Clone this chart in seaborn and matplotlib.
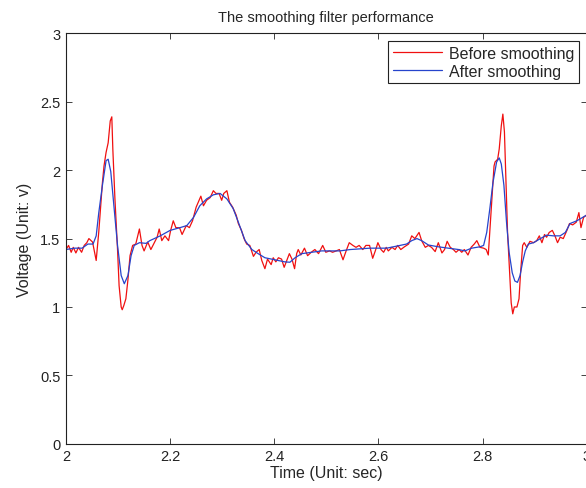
import seaborn as sns
import matplotlib.pyplot as plt
import pandas as pd

# values
t_before = [2.000, 2.005, 2.010, 2.014, 2.019, 2.024, 2.030, 2.035, 2.040, 2.044,
            2.051, 2.058, 2.063, 2.070, 2.073, 2.077, 2.081, 2.085, 2.088, 2.090,
            2.094, 2.099, 2.102, 2.106, 2.108, 2.111, 2.115, 2.119, 2.123, 2.128,
            2.134, 2.141, 2.146, 2.150, 2.157, 2.163, 2.167, 2.175, 2.179, 2.184,
            2.190, 2.197, 2.201, 2.206, 2.211, 2.218, 2.223, 2.231, 2.237, 2.243,
            2.250, 2.254, 2.259, 2.264, 2.270, 2.277, 2.283, 2.288, 2.294, 2.299,
            2.303, 2.309, 2.314, 2.320, 2.327, 2.331, 2.337, 2.342, 2.347, 2.353,
            2.360, 2.365, 2.371, 2.376, 2.382, 2.387, 2.394, 2.398, 2.403, 2.408,
            2.414, 2.419, 2.424, 2.429, 2.434, 2.439, 2.443, 2.446, 2.451, 2.458,
            2.464, 2.471, 2.478, 2.485, 2.493, 2.499, 2.506, 2.512, 2.519, 2.525,
            2.532, 2.538, 2.544, 2.551, 2.557, 2.563, 2.570, 2.576, 2.583, 2.589,
            2.594, 2.599, 2.605, 2.610, 2.615, 2.619, 2.626, 2.632, 2.637, 2.643,
            2.650, 2.658, 2.664, 2.670, 2.678, 2.683, 2.690, 2.696, 2.702, 2.709,
            2.715, 2.722, 2.727, 2.732, 2.738, 2.744, 2.749, 2.755, 2.760, 2.765,
            2.772, 2.778, 2.784, 2.789, 2.795, 2.802, 2.807, 2.811, 2.816, 2.822,
            2.824, 2.829, 2.832, 2.836, 2.839, 2.842, 2.845, 2.848, 2.852, 2.855,
            2.858, 2.861, 2.866, 2.870, 2.873, 2.877, 2.880, 2.885, 2.891, 2.898,
            2.904, 2.909, 2.914, 2.919, 2.923, 2.928, 2.934, 2.939, 2.944, 2.949,
            2.955, 2.962, 2.967, 2.973, 2.980, 2.985, 2.989, 2.994, 2.999]
v_before = [1.42, 1.45, 1.40, 1.436, 1.395, 1.436, 1.40, 1.45, 1.47, 1.50,
            1.475, 1.34, 1.55, 1.91, 2.03, 2.13, 2.20, 2.36, 2.39, 2.15,
            1.79, 1.42, 1.156, 1.00, 0.98, 1.01, 1.06, 1.20, 1.375, 1.45,
            1.46, 1.57, 1.45, 1.41, 1.475, 1.42, 1.45, 1.51, 1.57, 1.485,
            1.52, 1.485, 1.56, 1.63, 1.58, 1.58, 1.53, 1.595, 1.58, 1.63,
            1.73, 1.765, 1.81, 1.74, 1.78, 1.80, 1.85, 1.83, 1.83, 1.78,
            1.83, 1.85, 1.765, 1.73, 1.67, 1.61, 1.56, 1.50, 1.46, 1.45,
            1.37, 1.40, 1.42, 1.34, 1.28, 1.35, 1.31, 1.36, 1.33, 1.36,
            1.35, 1.29, 1.34, 1.39, 1.35, 1.28, 1.39, 1.42, 1.38, 1.43,
            1.375, 1.40, 1.42, 1.39, 1.45, 1.40, 1.41, 1.40, 1.41, 1.42,
            1.345, 1.41, 1.47, 1.45, 1.436, 1.45, 1.42, 1.45, 1.45, 1.356,
            1.41, 1.47, 1.42, 1.40, 1.436, 1.41, 1.436, 1.42, 1.45, 1.42,
            1.44, 1.46, 1.52, 1.50, 1.545, 1.485, 1.436, 1.45, 1.436, 1.405,
            1.47, 1.395, 1.42, 1.48, 1.436, 1.42, 1.40, 1.42, 1.40, 1.42,
            1.38, 1.436, 1.46, 1.485, 1.436, 1.43, 1.42, 1.38, 1.67, 2.03,
            2.06, 2.08, 2.155, 2.325, 2.41, 2.28, 1.91, 1.545, 1.25, 1.03,
            0.95, 1.00, 1.00, 1.06, 1.25, 1.45, 1.47, 1.436, 1.48, 1.47,
            1.485, 1.52, 1.47, 1.53, 1.51, 1.545, 1.56, 1.52, 1.47, 1.51,
            1.50, 1.56, 1.61, 1.60, 1.62, 1.69, 1.58, 1.655, 1.67]

t_after = [2.000, 2.017, 2.031, 2.042, 2.052, 2.058, 2.063, 2.070, 2.077, 2.081,
           2.086, 2.092, 2.099, 2.106, 2.112, 2.119, 2.125, 2.131, 2.141, 2.154,
           2.161, 2.181, 2.200, 2.219, 2.232, 2.245, 2.257, 2.270, 2.283, 2.296,
           2.309, 2.321, 2.331, 2.344, 2.357, 2.369, 2.382, 2.401, 2.420, 2.430,
           2.440, 2.453, 2.472, 2.491, 2.526, 2.546, 2.584, 2.616, 2.654, 2.664,
           2.674, 2.683, 2.696, 2.715, 2.734, 2.754, 2.766, 2.779, 2.795, 2.802,
           2.808, 2.814, 2.820, 2.827, 2.832, 2.836, 2.841, 2.846, 2.851, 2.857,
           2.862, 2.867, 2.872, 2.877, 2.882, 2.888, 2.898, 2.911, 2.923, 2.936,
           2.949, 2.959, 2.968, 2.981, 2.999]
v_after = [1.42, 1.43, 1.43, 1.46, 1.46, 1.52, 1.69, 1.89, 2.07, 2.08,
           1.99, 1.74, 1.45, 1.23, 1.17, 1.23, 1.375, 1.45, 1.47, 1.465,
           1.485, 1.52, 1.56, 1.58, 1.595, 1.655, 1.74, 1.79, 1.82, 1.83,
           1.79, 1.72, 1.62, 1.485, 1.42, 1.39, 1.36, 1.345, 1.33, 1.327,
           1.36, 1.39, 1.40, 1.41, 1.41, 1.42, 1.43, 1.43, 1.46, 1.485,
           1.50, 1.485, 1.453, 1.44, 1.43, 1.42, 1.41, 1.43, 1.44, 1.45,
           1.545, 1.72, 1.91, 2.06, 2.09, 2.045, 1.89, 1.62, 1.40, 1.25,
           1.19, 1.18, 1.23, 1.33, 1.41, 1.46, 1.47, 1.50, 1.525, 1.52,
           1.52, 1.545, 1.61, 1.63, 1.67]

x_ticks = [2, 2.2, 2.4, 2.6, 2.8, 3]
x_labels = ['2', '2.2', '2.4', '2.6', '2.8', '3']
y_ticks = [0, 0.5, 1, 1.5, 2, 2.5, 3]
y_labels = ['0', '0.5', '1', '1.5', '2', '2.5', '3']

before_df = pd.DataFrame({'time': t_before, 'voltage': v_before})
after_df = pd.DataFrame({'time': t_after, 'voltage': v_after})

sns.set_style('ticks')
plt.rcParams['font.family'] = ['Liberation Sans', 'DejaVu Sans']
plt.rcParams['xtick.direction'] = 'in'
plt.rcParams['ytick.direction'] = 'in'

fig = plt.figure(figsize=(5.86, 4.89), dpi=100)
ax = fig.add_axes([0.1126, 0.0904, 0.8886, 0.8393])

sns.lineplot(x='time', y='voltage', data=before_df, color='#f01010',
             linewidth=0.9, label='Before smoothing', ax=ax, estimator=None)
sns.lineplot(x='time', y='voltage', data=after_df, color='#2644cc',
             linewidth=0.9, label='After smoothing', ax=ax, estimator=None)

ax.set(xlim=(2, 3), ylim=(0, 3))
ax.set_xticks(x_ticks)
ax.set_xticklabels(x_labels)
ax.set_yticks(y_ticks)
ax.set_yticklabels(y_labels)
ax.tick_params(top=True, right=True, length=4, width=0.6, labelsize=10.5,
               colors='#222222', pad=4)
for s in ax.spines.values():
    s.set_visible(True)
    s.set_linewidth(0.8)
    s.set_color('#222222')

ax.set_title('The smoothing filter performance', fontsize=10.5, pad=9)
ax.set_xlabel('Time (Unit: sec)', fontsize=11.5, labelpad=1)
ax.set_ylabel('Voltage (Unit: v)', fontsize=11.5, labelpad=6)

leg = ax.legend(loc='upper right', bbox_to_anchor=(0.988, 0.9147),
                bbox_transform=fig.transFigure, borderaxespad=0,
                fancybox=False, framealpha=1, edgecolor='#222222',
                fontsize=11.5, handlelength=3.1, handletextpad=0.4,
                labelspacing=0.2, borderpad=0.3)
leg.get_frame().set_linewidth(0.8)

fig.savefig('out.png', dpi=100)
